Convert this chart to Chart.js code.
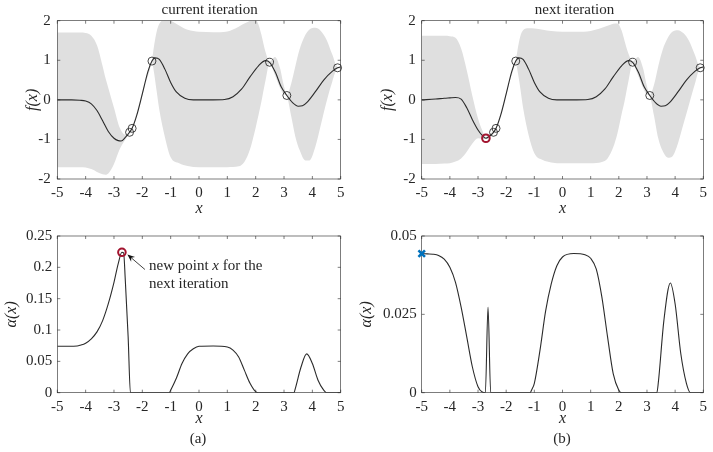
<!DOCTYPE html>
<html>
<head>
<meta charset="utf-8">
<script src="https://cdn.jsdelivr.net/npm/chart.js@4.4.1/dist/chart.umd.min.js"></script>
<style>
  body { margin: 0; background: #fff; width: 713px; height: 452px; position: relative; overflow: hidden;
         font-family: "Liberation Serif", serif; color: #262626; }
  canvas { position: absolute; }
  .lbl { position: absolute; font-size: 15px; line-height: 1; white-space: nowrap; transform: translate(-50%, -50%); }
  .note { position: absolute; font-size: 15px; line-height: 1; white-space: nowrap; transform: translateY(-50%); }
</style>
</head>
<body>
<canvas id="fa" width="356" height="222" style="left:0;top:0"></canvas>
<canvas id="fb" width="357" height="222" style="left:356px;top:0"></canvas>
<canvas id="aa" width="356" height="230" style="left:0;top:222px"></canvas>
<canvas id="ab" width="357" height="230" style="left:356px;top:222px"></canvas>

<div class="lbl" style="left:209.7px;top:9px">current iteration</div>
<div class="lbl" style="left:574.5px;top:9px">next iteration</div>
<div class="note" style="left:149px;top:265px">new point <i>x</i> for the</div>
<div class="note" style="left:149px;top:282.5px">next iteration</div>
<div class="lbl" style="left:198px;top:438px">(a)</div>
<div class="lbl" style="left:562px;top:438px">(b)</div>

<script>
// tick values
const xTicks = [-5, -4, -3, -2, -1, 0, 1, 2, 3, 4, 5];
const fTicks = [-2, -1, 0, 1, 2];
const acqTicksA = [0, 0.05, 0.1, 0.15, 0.2, 0.25];
const acqTicksB = [0, 0.025, 0.05];

// observed points (both iterations)
const obsX = [-2.45, -2.36, -1.66, 2.49, 3.1, 4.89];
const obsY = [-0.82, -0.72, 0.98, 0.95, 0.11, 0.81];
// point chosen by the acquisition function
const newX = -2.72, newF = -0.97, newAcq = 0.224;
// maximum of the acquisition in the next iteration
const nextX = -5, nextAcq = 0.0444;

// GP mean, current iteration
const meanXA = [-5, -4.5, -4.2, -4.0, -3.8, -3.6, -3.4, -3.2, -3.0, -2.85, -2.75, -2.6, -2.45, -2.36, -2.2,
  -2.0, -1.8, -1.66, -1.55, -1.4, -1.2, -1.0, -0.8, -0.5, -0.2, 0.5, 0.9, 1.2, 1.5, 1.8,
  2.1, 2.35, 2.49, 2.7, 2.9, 3.1, 3.3, 3.5, 3.65, 3.8, 4.1, 4.4, 4.7, 4.89, 5];
const meanA = [0, 0, -0.01, -0.03, -0.1, -0.27, -0.53, -0.8, -0.97, -1.03, -1.04, -0.95, -0.82, -0.72, -0.4,
  0.15, 0.72, 0.98, 1.06, 1.02, 0.77, 0.44, 0.2, 0.04, 0, 0, 0.01, 0.08, 0.27, 0.58,
  0.86, 0.99, 0.95, 0.69, 0.33, 0.11, -0.07, -0.16, -0.15, -0.07, 0.2, 0.5, 0.72, 0.81, 0.83];

// confidence band, current iteration
const bandXA = [-5, -4.5, -4.2, -4.0, -3.8, -3.6, -3.4, -3.3, -3.2, -3.0, -2.8, -2.6, -2.45, -2.36, -2.0,
  -1.66, -1.6, -1.5, -1.4, -1.2, -1.0, -0.7, -0.4, 0, 0.5, 1.0, 1.4, 1.6, 1.8, 1.95,
  2.1, 2.2, 2.35, 2.49, 2.68, 2.86, 2.98, 3.1, 3.25, 3.4, 3.55, 3.75, 3.9, 4.1, 4.3, 4.5, 4.7, 4.89, 5];
const upperA = [1.70, 1.70, 1.70, 1.69, 1.62, 1.38, 0.85, 0.55, 0.3, -0.2, -0.7, -0.88, -0.79, -0.69, 0.2,
  1.0, 1.3, 1.7, 1.92, 2.02, 2.0, 1.88, 1.77, 1.72, 1.71, 1.73, 1.85, 1.93, 2.0, 2.06,
  1.9, 1.65, 1.2, 0.97, 1.08, 0.8, 0.4, 0.13, 0.4, 0.85, 1.28, 1.64, 1.78, 1.82, 1.74, 1.52, 1.15, 0.83, 0.87];
const lowerA = [-1.70, -1.70, -1.70, -1.71, -1.75, -1.82, -1.88, -1.89, -1.86, -1.62, -1.25, -1.0, -0.85, -0.75, 0.1,
  0.96, 0.75, 0.25, -0.25, -0.95, -1.45, -1.6, -1.67, -1.70, -1.70, -1.70, -1.68, -1.57, -1.25, -0.85,
  -0.38, -0.05, 0.5, 0.93, 0.62, 0.3, 0.15, 0.09, -0.4, -0.93, -1.27, -1.53, -1.53, -1.2, -0.63, -0.05, 0.45, 0.79, 0.79];

// GP mean, next iteration
const meanXB = [-5, -4.5, -4.2, -4.0, -3.8, -3.6, -3.4, -3.2, -3.0, -2.85, -2.72, -2.6, -2.45, -2.36, -2.2,
  -2.0, -1.8, -1.66, -1.55, -1.4, -1.2, -1.0, -0.8, -0.5, -0.2, 0.5, 0.9, 1.2, 1.5, 1.8,
  2.1, 2.35, 2.49, 2.7, 2.9, 3.1, 3.3, 3.5, 3.65, 3.8, 4.1, 4.4, 4.7, 4.89, 5];
const meanB = [0, 0.02, 0.04, 0.05, 0.06, 0.02, -0.2, -0.5, -0.76, -0.9, -0.97, -0.92, -0.82, -0.72, -0.4,
  0.15, 0.72, 0.98, 1.06, 1.02, 0.77, 0.44, 0.2, 0.04, 0, 0, 0.01, 0.08, 0.27, 0.58,
  0.86, 0.99, 0.95, 0.69, 0.33, 0.11, -0.07, -0.16, -0.15, -0.07, 0.2, 0.5, 0.72, 0.81, 0.83];

// confidence band, next iteration
const bandXB = [-5, -4.5, -4.2, -4.0, -3.8, -3.6, -3.4, -3.2, -3.0, -2.85, -2.72, -2.6, -2.45, -2.36, -2.0,
  -1.66, -1.6, -1.5, -1.4, -1.2, -1.0, -0.7, -0.4, 0, 0.5, 1.0, 1.4, 1.6, 1.8, 1.95,
  2.1, 2.2, 2.35, 2.49, 2.68, 2.86, 2.98, 3.1, 3.25, 3.4, 3.55, 3.75, 3.9, 4.1, 4.3, 4.5, 4.7, 4.89, 5];
const upperB = [1.62, 1.62, 1.62, 1.61, 1.57, 1.3, 0.75, 0.1, -0.47, -0.77, -0.95, -0.87, -0.79, -0.69, 0.2,
  1.0, 1.25, 1.6, 1.76, 1.81, 1.8, 1.77, 1.74, 1.72, 1.72, 1.74, 1.82, 1.87, 1.92, 1.93,
  1.75, 1.5, 1.15, 0.97, 1.08, 0.8, 0.4, 0.13, 0.38, 0.85, 1.25, 1.58, 1.72, 1.76, 1.68, 1.48, 1.14, 0.83, 0.87];
const lowerB = [-1.62, -1.62, -1.61, -1.6, -1.56, -1.48, -1.31, -1.1, -0.97, -0.98, -0.99, -0.95, -0.85, -0.75, 0.1,
  0.96, 0.75, 0.3, -0.2, -0.9, -1.35, -1.52, -1.58, -1.6, -1.6, -1.6, -1.57, -1.48, -1.2, -0.85,
  -0.36, -0.05, 0.5, 0.93, 0.62, 0.3, 0.15, 0.09, -0.4, -0.97, -1.28, -1.46, -1.43, -1.1, -0.6, -0.1, 0.4, 0.79, 0.79];

// acquisition function, current iteration
const acqXA = [-5, -4.6, -4.3, -4.2, -4.0, -3.8, -3.6, -3.4, -3.2, -3.0, -2.85, -2.72, -2.66, -2.6, -2.5, -2.42,
  -1.05, -1.0, -0.8, -0.6, -0.4, -0.2, 0, 0.5, 1.0, 1.2, 1.4, 1.6, 1.8, 2.0, 2.1,
  3.35, 3.4, 3.6, 3.8, 4.0, 4.2, 4.4, 4.5, 5];
const acqA = [0.074, 0.074, 0.0745, 0.0756, 0.079, 0.086, 0.097, 0.115, 0.142, 0.176, 0.206, 0.224, 0.223, 0.179, 0.089, 0,
  0, 0.004, 0.023, 0.0465, 0.062, 0.070, 0.074, 0.0745, 0.073, 0.068, 0.057, 0.036, 0.015, 0.0016, 0,
  0, 0.007, 0.041, 0.062, 0.0465, 0.020, 0.004, 0, 0];

// acquisition function, next iteration
const acqXB = [-5, -4.8, -4.6, -4.4, -4.2, -4.0, -3.8, -3.6, -3.4, -3.2, -3.0, -2.85, -2.74, -2.645, -2.55,
  -1.15, -1.1, -1.0, -0.8, -0.6, -0.4, -0.2, 0, 0.4, 0.8, 1.0, 1.2, 1.4, 1.6, 1.8, 2.0, 2.1,
  3.35, 3.4, 3.6, 3.83, 4.0, 4.2, 4.4, 4.55, 5];
const acqB = [0.0444, 0.0443, 0.0442, 0.0438, 0.0426, 0.040, 0.0352, 0.0273, 0.0178, 0.0082, 0.0019, 0.0002, 0, 0.0273, 0,
  0, 0.0008, 0.003, 0.0135, 0.026, 0.0347, 0.0405, 0.0433, 0.0444, 0.044, 0.0429, 0.0394, 0.0304, 0.0178, 0.0061, 0.0008, 0,
  0, 0.003, 0.023, 0.035, 0.0283, 0.0125, 0.003, 0, 0];

const FONT = 'Liberation Serif';
const INK = '#262626';
const BAND = '#dfdfdf';
const LINE = '#2b2b2b';
const RED = '#a2142f';
const BLUE = '#0072bd';

const pts = (xs, ys) => xs.map((x, i) => ({ x: x, y: ys[i] }));

// box round the plot area with inward ticks on all four sides
const boxPlugin = {
  id: 'box',
  beforeDatasetsDraw(chart) {
    const { ctx, chartArea: a, scales: { x, y } } = chart;
    ctx.save();
    ctx.strokeStyle = INK;
    ctx.lineWidth = 0.6;
    ctx.strokeRect(a.left, a.top, a.right - a.left, a.bottom - a.top);
    ctx.beginPath();
    x.ticks.forEach(t => {
      const p = x.getPixelForValue(t.value);
      ctx.moveTo(p, a.bottom); ctx.lineTo(p, a.bottom - 3);
      ctx.moveTo(p, a.top); ctx.lineTo(p, a.top + 3);
    });
    y.ticks.forEach(t => {
      const p = y.getPixelForValue(t.value);
      ctx.moveTo(a.left, p); ctx.lineTo(a.left + 3, p);
      ctx.moveTo(a.right, p); ctx.lineTo(a.right - 3, p);
    });
    ctx.stroke();
    ctx.restore();
  }
};

// arrow pointing at the new point
const arrowPlugin = {
  id: 'arrow',
  afterDatasetsDraw(chart) {
    const { ctx, scales: { x, y } } = chart;
    const tipX = x.getPixelForValue(newX) + 5.5;
    const tipY = y.getPixelForValue(newAcq) + 2.2;
    const tailX = tipX + 17.5, tailY = tipY + 15;
    const ang = Math.atan2(tipY - tailY, tipX - tailX);
    ctx.save();
    ctx.strokeStyle = '#111';
    ctx.fillStyle = '#111';
    ctx.lineWidth = 0.8;
    ctx.beginPath();
    ctx.moveTo(tailX, tailY);
    ctx.lineTo(tipX - 5 * Math.cos(ang), tipY - 5 * Math.sin(ang));
    ctx.stroke();
    ctx.beginPath();
    ctx.moveTo(tipX, tipY);
    ctx.lineTo(tipX - 7.5 * Math.cos(ang) + 3 * Math.sin(ang), tipY - 7.5 * Math.sin(ang) - 3 * Math.cos(ang));
    ctx.lineTo(tipX - 5 * Math.cos(ang), tipY - 5 * Math.sin(ang));
    ctx.lineTo(tipX - 7.5 * Math.cos(ang) - 3 * Math.sin(ang), tipY - 7.5 * Math.sin(ang) + 3 * Math.cos(ang));
    ctx.closePath();
    ctx.fill();
    ctx.restore();
  }
};

function makeScales(p) {
  return {
    x: {
      type: 'linear', min: -5, max: 5,
      afterFit: s => { s.height = p.xh; },
      afterBuildTicks: s => { s.ticks = xTicks.map(v => ({ value: v })); },
      grid: { display: false, drawTicks: false }, border: { display: false },
      ticks: { padding: 5.5, color: INK, font: { family: FONT, size: 15 }, maxRotation: 0, autoSkip: false,
               callback: v => String(v) },
      title: { display: true, text: 'x', color: INK, font: { family: FONT, size: 16, style: 'italic' },
               padding: { top: 0, bottom: p.xPad } }
    },
    y: {
      type: 'linear', min: p.yTicks[0], max: p.yTicks[p.yTicks.length - 1],
      afterFit: s => { s.width = p.L; },
      afterBuildTicks: s => { s.ticks = p.yTicks.map(v => ({ value: v })); },
      grid: { display: false, drawTicks: false }, border: { display: false },
      ticks: { padding: p.yTickPad, color: INK, font: { family: FONT, size: 15 }, autoSkip: false,
               callback: v => String(v) },
      title: { display: true, text: p.yTitle, color: INK, font: { family: FONT, size: 16, style: 'italic' },
               padding: { top: p.yPad, bottom: 0 } }
    }
  };
}

function makeChart(id, datasets, p, plugins) {
  new Chart(document.getElementById(id), {
    type: 'line',
    data: { datasets: datasets },
    options: {
      responsive: false, animation: false, events: [], devicePixelRatio: 1,
      layout: { padding: { left: 0, top: p.T, right: p.R, bottom: 0 } },
      plugins: { legend: { display: false }, tooltip: { enabled: false }, filler: { drawTime: 'beforeDatasetsDraw' } },
      scales: makeScales(p)
    },
    plugins: [boxPlugin].concat(plugins || [])
  });
}

function gpDatasets(extra, meanX, mean, bandX, upper, lower) {
  const list = extra.concat([
    { data: pts(obsX, obsY), showLine: false, pointRadius: 4, pointBorderWidth: 0.8,
      pointBorderColor: '#1a1a1a', pointBackgroundColor: 'rgba(0,0,0,0)', clip: false },
    { data: pts(meanX, mean), borderColor: LINE, borderWidth: 1.1, pointRadius: 0, cubicInterpolationMode: 'monotone' }
  ]);
  const lowIdx = list.length + 1;
  list.push({ data: pts(bandX, upper), borderColor: 'rgba(0,0,0,0)', borderWidth: 0, pointRadius: 0,
              backgroundColor: BAND, fill: lowIdx, cubicInterpolationMode: 'monotone' });
  list.push({ data: pts(bandX, lower), borderColor: 'rgba(0,0,0,0)', borderWidth: 0, pointRadius: 0,
              fill: false, cubicInterpolationMode: 'monotone' });
  return list;
}

const redMark = (x, y) => ({ data: [{ x: x, y: y }], showLine: false, pointRadius: 3.8, pointBorderWidth: 2,
  pointBorderColor: RED, pointBackgroundColor: 'rgba(0,0,0,0)', clip: false });

makeChart('fa', gpDatasets([], meanXA, meanA, bandXA, upperA, lowerA),
  { L: 57.3, R: 15.3, T: 20.7, xh: 43, xPad: 3.9, yTicks: fTicks, yTitle: 'f(x)', yPad: 22.9, yTickPad: 6.5 });

makeChart('fb', gpDatasets([redMark(newX, newF)], meanXB, meanB, bandXB, upperB, lowerB),
  { L: 65.7, R: 9.7, T: 20.7, xh: 43, xPad: 3.9, yTicks: fTicks, yTitle: 'f(x)', yPad: 22.4, yTickPad: 6 });

makeChart('aa', [
    redMark(newX, newAcq),
    { data: pts(acqXA, acqA), borderColor: LINE, borderWidth: 1.1, pointRadius: 0, cubicInterpolationMode: 'monotone' }
  ],
  { L: 57.3, R: 15.3, T: 13, xh: 59.3, xPad: 23.9, yTicks: acqTicksA, yTitle: 'α(x)', yPad: 2.1, yTickPad: 5 },
  [arrowPlugin]);

makeChart('ab', [
    { data: [{ x: nextX, y: nextAcq }], showLine: false, pointStyle: 'crossRot', pointRadius: 4.6, pointBorderWidth: 2.6,
      pointBorderColor: BLUE, clip: false },
    { data: pts(acqXB, acqB), borderColor: LINE, borderWidth: 1.1, pointRadius: 0, cubicInterpolationMode: 'monotone' }
  ],
  { L: 65.7, R: 9.7, T: 13, xh: 59.3, xPad: 23.9, yTicks: acqTicksB, yTitle: 'α(x)', yPad: 1.1, yTickPad: 5 });
</script>
</body>
</html>
